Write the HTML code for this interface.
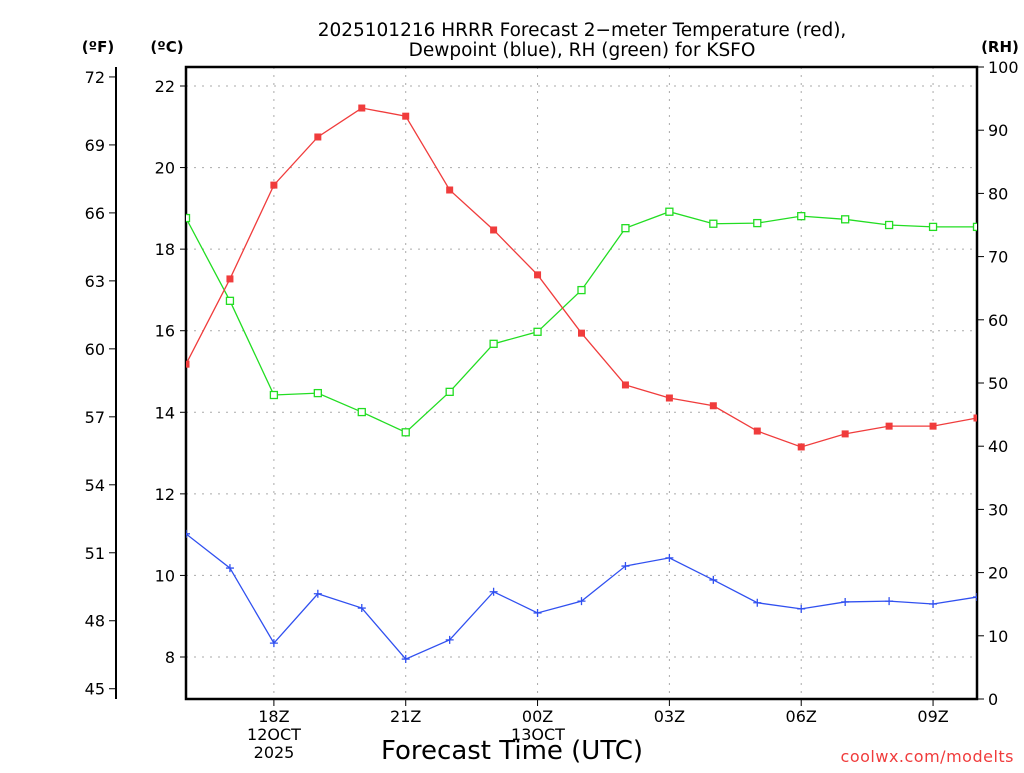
<!DOCTYPE html>
<html><head><meta charset="utf-8"><style>
body{margin:0;background:#fff;}
svg text{font-family:"DejaVu Sans","Liberation Sans",sans-serif;}
</style></head><body>
<svg id="chart" width="1024" height="768" xmlns="http://www.w3.org/2000/svg">
<defs><clipPath id="clip"><rect x="186" y="67" width="791" height="632"/></clipPath></defs>
<g id="grid"></g>
<g id="axes"></g>
<g id="series" clip-path="url(#clip)"></g>
<text x="582" y="36" font-size="18.5" text-anchor="middle">2025101216 HRRR Forecast 2−meter Temperature (red),</text>
<text x="582" y="56" font-size="18.5" text-anchor="middle">Dewpoint (blue), RH (green) for KSFO</text>
<text x="98" y="52" font-size="15" font-weight="bold" text-anchor="middle">(ºF)</text>
<text x="167" y="52" font-size="15" font-weight="bold" text-anchor="middle">(ºC)</text>
<text x="1000" y="52" font-size="15" font-weight="bold" text-anchor="middle">(RH)</text>
<text x="512" y="759" font-size="26" text-anchor="middle">Forecast Time (UTC)</text>
<text x="1014" y="762" font-size="16" fill="#f03c3c" text-anchor="end" letter-spacing="0.5">coolwx.com/modelts</text>
</svg>
<script>
const hours = [16,17,18,19,20,21,22,23,24,25,26,27,28,29,30,31,32,33,34];
const tempC = [15.18,17.27,19.57,20.75,21.46,21.26,19.45,18.47,17.37,15.94,14.67,14.35,14.16,13.54,13.15,13.47,13.66,13.66,13.86];
const dewC = [11.02,10.18,8.34,9.55,9.20,7.95,8.42,9.60,9.08,9.37,10.23,10.43,9.89,9.33,9.18,9.35,9.37,9.30,9.47];
const rh = [76.1,63.0,48.1,48.4,45.4,42.2,48.6,56.2,58.1,64.7,74.5,77.1,75.2,75.3,76.4,75.9,75.0,74.7,74.7];
const cTicks = [8,10,12,14,16,18,20,22];
const fTicks = [45,48,51,54,57,60,63,66,69,72];
const rhTicks = [0,10,20,30,40,50,60,70,80,90,100];
const xTickHours = [18,21,24,27,30,33];
const xTickLabels = ["18Z","21Z","00Z","03Z","06Z","09Z"];

const X0=186,X1=977,Y0=67,Y1=699;
const x = h => X0 + (h-16)*(X1-X0)/18;
const yC = c => 657 - (c-8)*(657-86)/14;
const yF = f => yC((f-32)*5/9);
const yR = r => Y1 - r*(Y1-Y0)/100;
const NS="http://www.w3.org/2000/svg";
function mk(tag, attrs, parent, txt){const e=document.createElementNS(NS,tag);for(const k in attrs)e.setAttribute(k,attrs[k]);if(txt!==undefined)e.textContent=txt;parent.appendChild(e);return e;}
const grid=document.getElementById('grid'),axes=document.getElementById('axes'),series=document.getElementById('series');

cTicks.forEach(c=>{const y=yC(c);
 let l=mk('line',{x1:X0,x2:X1,y1:y,y2:y,stroke:'#aaa','stroke-dasharray':'2,6'},grid);
 
 mk('line',{x1:180,x2:186,y1:y,y2:y,stroke:'#000'},axes);
 let t=mk('text',{x:175,y:y+6,'font-size':16,'text-anchor':'end'},axes,c);
 });
xTickHours.forEach((h,i)=>{const xx=x(h);
 let l=mk('line',{x1:xx,x2:xx,y1:Y0,y2:Y1,stroke:'#aaa','stroke-dasharray':'2,6'},grid);
 
 mk('line',{x1:xx,x2:xx,y1:Y1,y2:Y1+7,stroke:'#000'},axes);
 let t=mk('text',{x:xx,y:722,'font-size':16,'text-anchor':'middle'},axes,xTickLabels[i]);
 });
[["12OCT",274,740],["2025",274,758],["13OCT",538,740]].forEach(a=>{
 let t=mk('text',{x:a[1],y:a[2],'font-size':16,'text-anchor':'middle'},axes,a[0]);
 });
fTicks.forEach(f=>{const y=yF(f);
 mk('line',{x1:109,x2:116,y1:y,y2:y,stroke:'#000'},axes);
 let t=mk('text',{x:105,y:y+6,'font-size':16,'text-anchor':'end'},axes,f);
 });
mk('line',{x1:116,x2:116,y1:Y0,y2:Y1,stroke:'#000','stroke-width':2},axes);
rhTicks.forEach(r=>{const y=yR(r);
 mk('line',{x1:X1,x2:X1+7,y1:y,y2:y,stroke:'#000'},axes);
 let t=mk('text',{x:988,y:y+6,'font-size':16},axes,r);
 });
let fr=mk('rect',{x:X0,y:Y0,width:X1-X0,height:Y1-Y0,fill:'none',stroke:'#000','stroke-width':2.5},axes);


function drawSeries(vals, yf, color, marker, name){
 const pts=vals.map((v,i)=>[x(hours[i]),yf(v)]);
 let p=mk('polyline',{points:pts.map(p=>p.join(',')).join(' '),fill:'none',stroke:color,'stroke-width':1.3},series);
 
 pts.forEach(([px,py])=>{let m;
  if(marker==='filled') m=mk('rect',{x:px-3.5,y:py-3.5,width:7,height:7,fill:color},series);
  else if(marker==='open') m=mk('rect',{x:px-3.5,y:py-3.5,width:7,height:7,fill:'#fff',stroke:color,'stroke-width':1.3},series);
  else m=mk('path',{d:`M${px-4},${py}H${px+4}M${px},${py-4}V${py+4}`,stroke:color,'stroke-width':1.3},series);
  });
}
drawSeries(rh,yR,'#22dd22','open','rh');
drawSeries(tempC,yC,'#f03c3c','filled','temperature');
drawSeries(dewC,yC,'#3050f0','plus','dewpoint');
</script>
</body></html>
